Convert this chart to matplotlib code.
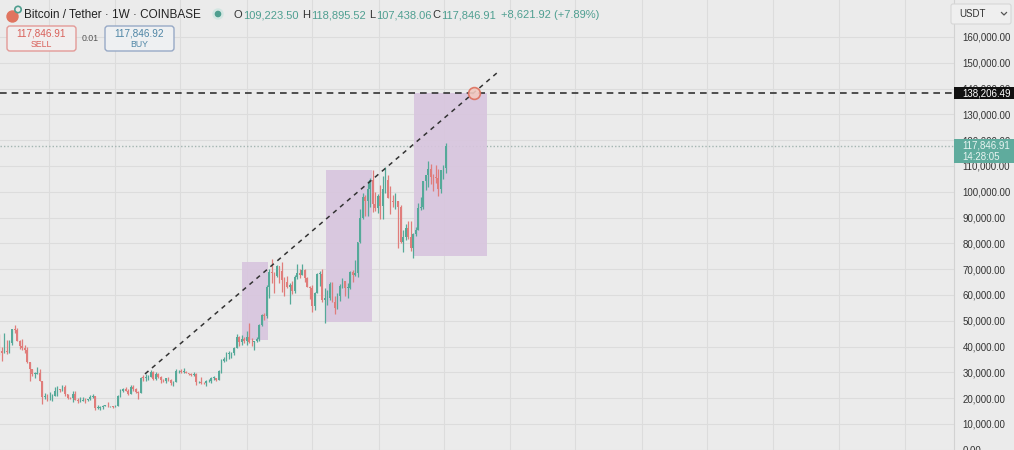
import numpy as np
import pandas as pd
import matplotlib
matplotlib.use("Agg")
import matplotlib.pyplot as plt
import matplotlib.dates as mdates
from matplotlib.patches import Rectangle, FancyBboxPatch, Circle

plt.rcParams['font.family'] = ['Liberation Sans', 'DejaVu Sans']

# weekly BTC/USDT candles (thousands of USDT), first week starts 2022-02-14
week_start = "2022-02-14"
first_open = 42.2
closes = [
    38.4, 37.7, 38.4, 37.8, 41.3, 46.8, 46.4, 42.2, 40.4, 39.5, 38.5, 34.1, 31.3, 29.4, 29.4, 29.9,
    26.6, 20.6, 21.0, 20.8, 20.8, 20.8, 22.6, 23.3, 23.2, 24.3, 21.5, 20.0, 19.9, 21.8, 19.4, 18.9,
    19.0, 19.4, 19.2, 19.6, 20.6, 20.9, 16.3, 16.3, 16.4, 17.1, 17.1, 16.8, 16.8, 16.6,
    17.1, 20.9, 22.7, 23.7, 22.9, 21.8, 24.3, 23.5, 22.4, 22.1, 28.0, 27.9, 28.2, 28.3, 30.3, 27.6,
    29.2, 28.4, 26.9, 26.8, 28.0, 27.2, 25.9, 26.3, 30.5, 30.6, 30.3, 30.3, 29.8, 29.3, 29.1, 29.4,
    26.1, 26.1, 25.9, 25.8, 26.5, 26.5, 27.9, 27.9, 27.0, 30.5, 34.5, 35.0, 37.1, 37.4, 37.4, 39.5,
    43.8, 41.9, 43.0, 42.3,
    43.9, 41.8, 41.6, 42.0, 43.0, 48.3, 52.1, 51.7, 63.1, 68.9, 68.4, 67.2, 71.3, 69.4, 65.7, 64.9,
    63.1, 63.9, 61.5, 66.9, 68.5, 67.8, 69.6, 66.6, 63.2, 62.8, 55.9, 60.8, 68.2, 68.2, 58.1, 58.7,
    58.9, 64.2, 57.3, 54.8, 59.8, 63.6, 65.6, 62.8, 62.9, 69.0, 67.9, 68.7, 80.4, 89.8, 97.9, 96.4,
    101.1, 104.4, 95.2, 93.7, 98.3,
    94.5, 101.2, 104.7, 97.7, 96.5, 96.1, 96.3, 94.3, 80.7, 82.6, 86.1, 82.4, 78.4, 83.7, 85.2, 93.8,
    94.3, 104.0, 106.5, 109.0, 105.7, 105.6, 105.5, 100.9, 108.4, 109.2235, 117.84691,
]
highs = [
    44.7, 40.0, 45.4, 42.6, 42.4, 47.0, 48.2, 47.2, 42.4, 42.9, 40.8, 40.0, 34.2, 31.5, 30.2, 32.2,
    31.5, 26.8, 21.9, 21.5, 22.5, 21.6, 24.2, 24.6, 23.6, 25.2, 25.0, 21.8, 20.6, 22.8, 22.6, 19.9,
    20.4, 20.5, 19.9, 19.7, 21.1, 21.5, 21.0, 17.2, 16.8, 17.4, 17.4, 18.4, 17.0, 16.9,
    17.4, 21.4, 23.4, 23.9, 24.3, 23.4, 25.2, 25.1, 23.9, 22.6, 28.4, 28.9, 29.2, 28.8, 31.0, 30.5,
    30.0, 29.8, 28.6, 27.6, 28.0, 28.4, 27.4, 26.8, 31.4, 31.0, 31.4, 31.8, 30.4, 29.9, 29.9, 30.2,
    29.7, 26.8, 28.1, 26.4, 26.9, 27.5, 28.1, 28.6, 28.0, 30.9, 35.2, 35.9, 38.0, 38.4, 38.0, 39.8,
    44.7, 44.0, 44.4, 43.8,
    45.9, 49.1, 43.2, 42.2, 43.9, 48.6, 52.8, 52.9, 64.0, 70.1, 73.8, 68.9, 71.7, 71.3, 72.8, 66.9,
    67.2, 64.7, 65.5, 67.7, 71.9, 70.0, 71.9, 70.2, 66.9, 63.4, 63.8, 61.0, 68.4, 69.4, 70.0, 62.7,
    61.8, 65.0, 64.9, 59.8, 60.6, 64.1, 66.5, 65.6, 64.5, 69.4, 69.5, 73.6, 80.6, 93.5, 99.6, 98.9,
    104.0, 105.2, 108.3, 99.9, 99.0,
    102.7, 106.0, 109.6, 106.4, 102.4, 98.8, 99.5, 96.5, 95.0, 85.3, 87.5, 88.8, 88.5, 84.0, 86.5, 95.7,
    97.9, 104.3, 106.7, 111.9, 110.7, 106.8, 110.5, 108.9, 108.5, 110.5, 118.89552,
]
lows = [
    36.8, 34.3, 37.5, 37.1, 37.6, 40.5, 45.2, 42.1, 39.2, 38.6, 37.7, 33.7, 26.7, 28.7, 28.0, 29.3,
    26.5, 17.6, 19.6, 18.8, 19.3, 18.9, 20.8, 20.8, 22.4, 22.7, 20.8, 19.5, 19.6, 18.5, 19.3, 18.1,
    18.5, 19.0, 18.2, 18.9, 19.2, 20.1, 15.6, 15.8, 15.5, 16.0, 16.9, 16.6, 16.4, 16.3,
    16.5, 17.1, 20.4, 22.3, 22.6, 21.4, 21.5, 22.8, 21.9, 19.6, 21.9, 26.6, 26.5, 27.2, 28.2, 27.1,
    26.9, 27.7, 25.8, 26.1, 25.9, 26.6, 25.3, 24.8, 26.3, 29.9, 29.7, 29.9, 29.6, 29.0, 28.6, 28.7,
    25.2, 25.8, 25.4, 25.4, 24.9, 26.4, 26.0, 27.2, 26.5, 26.9, 29.9, 33.9, 34.5, 35.3, 35.7, 36.9,
    39.4, 40.2, 40.5, 41.5,
    40.8, 41.5, 40.3, 38.5, 41.9, 42.3, 48.1, 50.5, 50.9, 59.0, 64.5, 60.8, 66.8, 64.5, 61.0, 59.6,
    62.8, 56.5, 60.2, 60.8, 66.3, 66.7, 67.6, 65.1, 63.0, 58.4, 53.5, 54.3, 60.6, 63.4, 57.1, 49.0,
    56.1, 58.1, 57.2, 52.6, 54.6, 57.6, 62.7, 59.8, 58.9, 62.4, 65.1, 67.5, 66.8, 80.0, 89.4, 90.8,
    90.5, 94.2, 92.2, 92.5, 91.6,
    89.3, 89.3, 99.5, 97.5, 91.2, 94.1, 93.4, 78.2, 80.0, 76.6, 81.2, 81.6, 77.1, 74.5, 83.0, 85.1,
    92.9, 93.4, 100.8, 102.0, 103.0, 100.4, 103.4, 98.2, 99.6, 105.1, 107.43806,
]

# drawings on the chart
box_starts = ["2023-12-18", "2024-08-07", "2025-04-10"]
box_ends = ["2024-03-01", "2024-12-15", "2025-10-30"]
box_lows = [42600, 49600, 75200]
box_highs = [72700, 108400, 138206.49]
trend_dates = ["2023-03-25", "2025-11-25"]
trend_prices = [29400, 146000]
target_price = 138206.49
target_date = "2025-09-23"
last_price = 117846.91
bar_timer = "14:28:05"

header = "Bitcoin / Tether · 1W · COINBASE"
ohlc_labels = ["O", "H", "L", "C"]
ohlc_values = ["109,223.50", "118,895.52", "107,438.06", "117,846.91"]
change_text = "+8,621.92 (+7.89%)"
sell_price = "117,846.91"
buy_price = "117,846.92"
spread = "0.01"

bg = "#ebebeb"
up_color = "#55a999"
down_color = "#e07d7b"

fig = plt.figure(figsize=(10.14, 4.5), dpi=100, facecolor=bg)
ax = fig.add_axes([0, 0, 954 / 1014, 1])
ax.set_facecolor(bg)

dates = pd.date_range(week_start, periods=len(closes), freq="7D")
x = mdates.date2num(dates)
c = np.array(closes) * 1000
o = np.array([first_open] + closes[:-1]) * 1000
h = np.array(highs) * 1000
l = np.array(lows) * 1000
cols = np.where(c >= o, up_color, down_color)

ax.vlines(x, l, h, colors=cols, lw=0.9, zorder=4)
ax.bar(x, np.maximum(np.abs(c - o), 200), bottom=np.minimum(o, c), width=4.8,
       color=cols, linewidth=0, zorder=5)

# purple range boxes
for s, e, lo, hi in zip(box_starts, box_ends, box_lows, box_highs):
    x0 = mdates.date2num(pd.Timestamp(s))
    x1 = mdates.date2num(pd.Timestamp(e))
    ax.add_patch(Rectangle((x0, lo), x1 - x0, hi - lo, facecolor="#d8c5de",
                           edgecolor="none", alpha=0.9, zorder=3))

# trend line, target level, current price
ax.plot(pd.to_datetime(trend_dates), trend_prices, color="#333333", lw=1.1,
        ls=(0, (3, 3)), zorder=6)
ax.axhline(target_price, color="#333333", lw=1.2, ls=(0, (4, 3)), zorder=6)
ax.axhline(last_price, color="#a3b5b1", lw=1.0, ls=(0, (1, 1.5)), zorder=2)
ax.plot([pd.Timestamp(target_date)], [target_price], marker="o", ms=8.5,
        mfc="#f2c9c0", mec="#dd6f5c", mew=1.2, alpha=0.9, zorder=7)

d0 = mdates.date2num(pd.Timestamp(week_start))
ax.set_xlim(d0 + 0.24 * 7, d0 + 378.4 * 7)
ax.set_ylim(-80, 174340)

# grid: price every 10k, time every half year
ax.set_yticks(np.arange(0, 160001, 10000))
ax.set_yticklabels([f"{v:,.2f}" for v in np.arange(0, 160001, 10000)])
half_years = pd.date_range("2022-07-01", "2029-01-01", freq="6MS")
ax.set_xticks(mdates.date2num(half_years))
ax.grid(True, color="#dcdcdc", lw=0.8, zorder=0)
ax.set_axisbelow(True)
ax.yaxis.tick_right()
ax.tick_params(axis="y", length=0, pad=6, labelsize=7, labelcolor="#333333")
ax.tick_params(axis="x", length=0, labelbottom=False)
for side in ["top", "left", "bottom"]:
    ax.spines[side].set_visible(False)
ax.spines["right"].set_color("#d2d2d2")

# overlay in pixel coordinates (origin top-left)
ov = fig.add_axes([0, 0, 1, 1], zorder=5)
ov.set_xlim(0, 1014)
ov.set_ylim(450, 0)
ov.axis("off")
ov.patch.set_alpha(0)


def price_to_px(p):
    return 450 - ax.transData.transform((0, p))[1]


# price labels on the scale
ty = price_to_px(target_price)
ov.add_patch(Rectangle((954, ty - 6), 60, 12, fc="#111111", ec="none"))
ov.text(962, ty, f"{target_price:,.2f}", fontsize=7, color="white", va="center")
ly = price_to_px(last_price)
ov.add_patch(Rectangle((954, ly - 6.5), 60, 24, fc="#5fab9d", ec="none"))
ov.text(962, ly, f"{last_price:,.2f}", fontsize=7, color="#e8f4f1", va="center")
ov.text(962, ly + 11, bar_timer, fontsize=7, color="#e8f4f1", va="center")

# header
ov.add_patch(Circle((12.5, 16.5), 5.5, color="#e0745f"))
ov.add_patch(Circle((18, 9.5), 3.2, fc="none", ec="#4e9e8f", lw=1.2))
ov.text(24, 15, header, fontsize=8.5, color="#222222", va="center")
ov.add_patch(Circle((218, 14), 5, color="#d3e6e2"))
ov.add_patch(Circle((218, 14), 2.6, color="#4e9e8f"))

value_x = [243, 311, 376, 441]
for vx, lab, val in zip(value_x, ohlc_labels, ohlc_values):
    ov.text(vx - 0.5, 15, lab, fontsize=8, color="#333333", va="center", ha="right")
    ov.text(vx, 15, val, fontsize=8, color="#4f9f91", va="center")
ov.text(501, 15, change_text, fontsize=8, color="#4f9f91", va="center")

ov.add_patch(FancyBboxPatch((7, 26), 69, 25, boxstyle="round,pad=0,rounding_size=3",
                            fc="#f1eeee", ec="#e39a97", lw=1))
ov.text(41.5, 33.5, sell_price, fontsize=7.2, color="#d9605a", ha="center", va="center")
ov.text(41.5, 44.5, "SELL", fontsize=6.3, color="#d9605a", ha="center", va="center")
ov.text(90, 38.5, spread, fontsize=6.3, color="#555555", ha="center", va="center")
ov.add_patch(FancyBboxPatch((105, 26), 69, 25, boxstyle="round,pad=0,rounding_size=3",
                            fc="#eef0f2", ec="#97a9c6", lw=1))
ov.text(139.5, 33.5, buy_price, fontsize=7.2, color="#4f86a6", ha="center", va="center")
ov.text(139.5, 44.5, "BUY", fontsize=6.3, color="#4f86a6", ha="center", va="center")

# currency selector
ov.add_patch(FancyBboxPatch((951, 4), 60, 20, boxstyle="round,pad=0,rounding_size=2",
                            fc="#efefef", ec="#d6d6d6", lw=0.8))
ov.text(959, 14, "USDT", fontsize=7, color="#333333", va="center")
ov.plot([1001.5, 1004, 1006.5], [12.5, 15, 12.5], color="#555555", lw=0.9)

fig.savefig("out.png", dpi=100, facecolor=bg)
